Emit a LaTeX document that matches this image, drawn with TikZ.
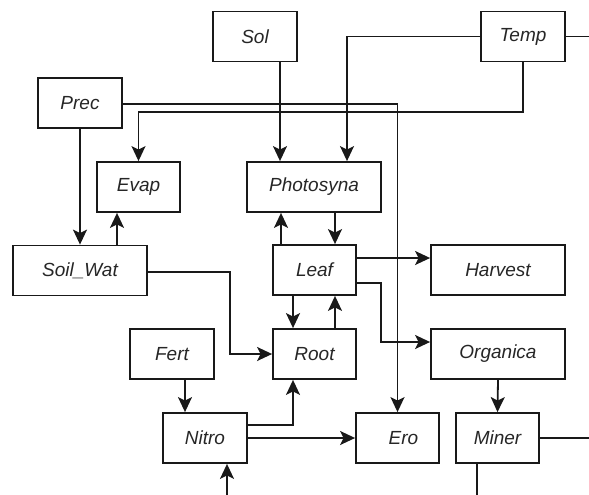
\documentclass[tikz,border=0pt]{standalone}
\usepackage{fontspec}
\setmainfont{Liberation Sans}
\usetikzlibrary{arrows.meta,calc}
\begin{document}
\begin{tikzpicture}[x=1pt,y=-1pt,
  box/.style={draw=black!90,line width=1.8pt,rectangle,minimum width=84pt,minimum height=50pt,inner sep=0pt,font=\fontsize{19}{22}\selectfont\itshape,text=black!85},
  wide/.style={box,minimum width=134pt},
  conn/.style={draw=black!90,line width=1.8pt},
  arr/.style={conn,-{Stealth[length=15pt,width=14pt,inset=3.5pt]}}]
\useasboundingbox (0,0) rectangle (589,495);
\node[box] (Sol) at (255,36.5) {Sol};
\node[box] (Temp) at (523,36.5) {Temp};
\node[box] (Prec) at (80,103) {Prec};
\node[box,minimum width=83pt] (Evap) at (138.5,187) {Evap};
\node[wide] (Photo) at (314,187) {Photosyna};
\node[wide] (Soil) at (80,270.5) {Soil\_Wat};
\node[box,minimum width=83pt] (Leaf) at (314.5,270) {Leaf};
\node[wide] (Harv) at (498,270) {Harvest};
\node[box] (Fert) at (172,354) {Fert};
\node[box,minimum width=83pt] (Root) at (314.5,354) {Root};
\node[wide] (Org) at (498,354) {Organica};
\node[box] (Nitro) at (205,438) {Nitro};
\node[box,minimum width=83pt] (Ero) at (397.5,438) {\hspace*{12pt}Ero};
\node[box,minimum width=83pt] (Miner) at (497.5,438) {Miner};
\coordinate (TempR) at (589,36.5);
\coordinate (MinerR) at (589,438);
\coordinate (MinerB) at (477,495);
\coordinate (NitroB) at (227,495);
\coordinate (TempBend) at (138.5,112);
% connectors
\draw[arr] (Prec.south) -- (Soil.north);
\draw[arr] ([xshift=37pt]Soil.north) -- ([xshift=37pt]Soil.north |- Evap.south);
\draw[arr] ([xshift=25pt]Sol.south) -- ([xshift=25pt]Sol.south |- Photo.north);
\draw[arr] (Temp.west) -| ([xshift=33pt]Photo.north);
\draw[conn] (Temp.east) -- (TempR);
\draw[arr] (Temp.south) |- (TempBend) -- (Evap.north);
\draw[arr] ([yshift=-1pt]Prec.east) -| (Ero.north);
\draw[arr] ([xshift=-33.5pt]Leaf.north) -- ([xshift=-33.5pt]Leaf.north |- Photo.south);
\draw[arr] ([xshift=21pt]Photo.south) -- ([xshift=21pt]Photo.south |- Leaf.north);
\draw[arr] ([xshift=-21.5pt]Leaf.south) -- ([xshift=-21.5pt]Leaf.south |- Root.north);
\draw[arr] ([xshift=20.5pt]Root.north) -- ([xshift=20.5pt]Root.north |- Leaf.south);
\draw[arr] ([yshift=12pt]Leaf.east) -- ([yshift=12pt]Leaf.east -| Harv.west);
\draw[arr] ([yshift=-13pt]Leaf.east) -- ++(24,0) |- ([yshift=12pt]Org.west);
\draw[arr] ([yshift=-1.5pt]Soil.east) -- (230,272) |- (Root.west);
\draw[arr] ([xshift=13pt]Fert.south) -- ([xshift=13pt]Fert.south |- Nitro.north);
\draw[arr] ([yshift=13pt]Nitro.east) -| ([xshift=-21.5pt]Root.south);
\draw[arr] (Nitro.east) -- (Ero.west);
\draw[arr] (Org.south) -- (Miner.north);
\draw[conn] (Miner.east) -- (MinerR);
\draw[conn] (Miner.south -| MinerB) -- (MinerB);
\draw[arr] (NitroB) -- (NitroB |- Nitro.south);
\end{tikzpicture}
\end{document}
